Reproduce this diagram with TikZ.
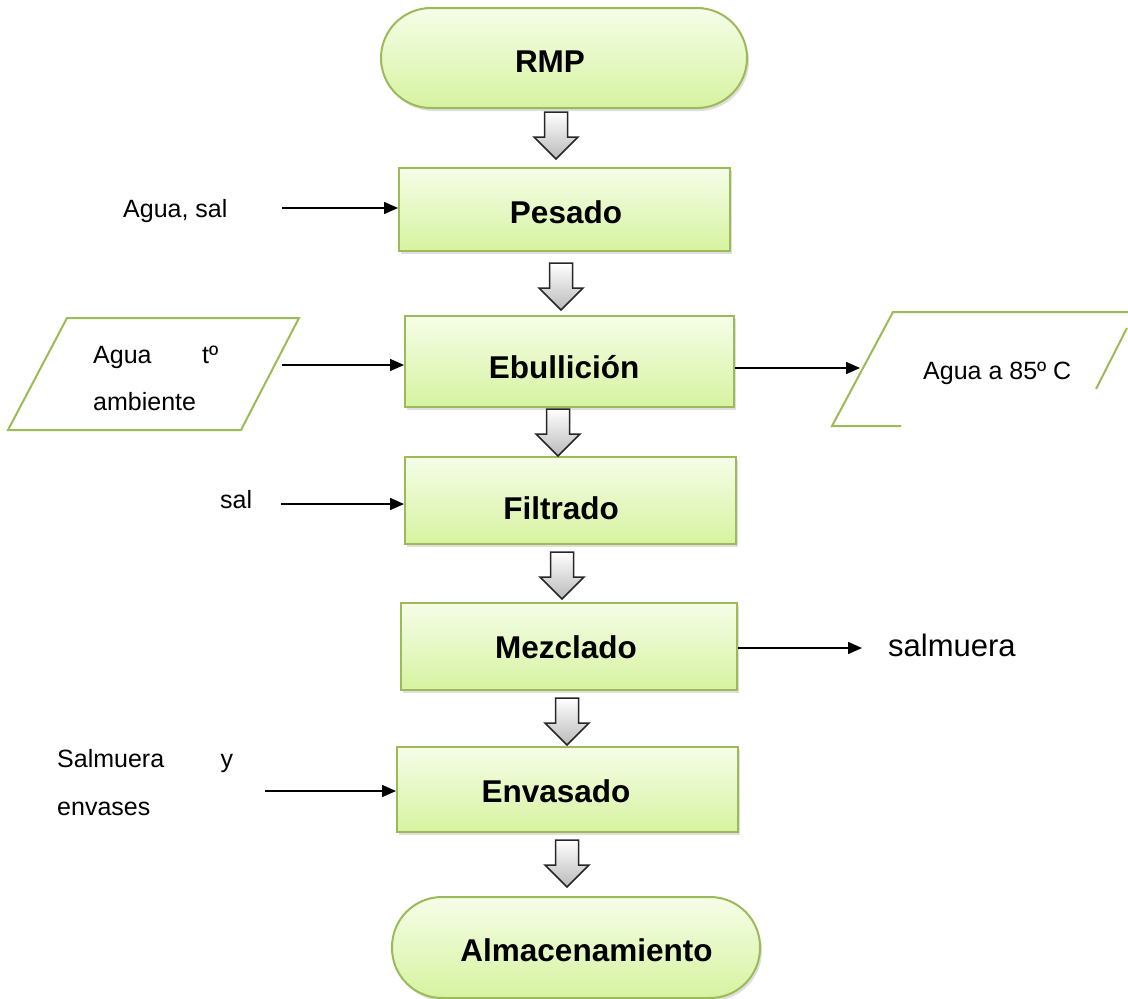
\documentclass[tikz,border=0pt]{standalone}
\usepackage{fontspec}
\setmainfont{Liberation Sans}
\usetikzlibrary{arrows.meta,shadows}
\definecolor{brd}{RGB}{155,187,89}
\definecolor{gtop}{RGB}{246,253,232}
\definecolor{gbot}{RGB}{214,243,160}
% place text with its visual centre offset (dx, dy) from the node centre
\newcommand\tpos[3]{\makebox[0pt][c]{\raisebox{\dimexpr-#2pt-11pt\relax}[0pt][0pt]{\hspace*{#1pt}\hspace*{#1pt}#3}}}
\tikzset{
  box/.style={draw=brd, line width=2pt, top color=gtop, bottom color=gbot,
    drop shadow={shadow xshift=2pt, shadow yshift=-3pt, opacity=0.25},
    font=\fontsize{31.5}{36}\selectfont\bfseries, inner sep=0pt},
  term/.style={box, rounded corners=50pt},
  lbl/.style={font=\fontsize{25}{30}\selectfont, inner sep=0pt},
  conn/.style={line width=1.5pt, -{Triangle[length=14pt,width=12pt]}},
  para/.style={draw=brd, line width=2pt},
  barrow/.pic={\path[draw=black!85, line width=1.5pt, top color=white, bottom color=black!27, line join=miter]
     (-11.5,0) -- (11.5,0) -- (11.5,25) -- (22,25) -- (0,47) -- (-22,25) -- (-11.5,25) -- cycle;}
}
\begin{document}
\begin{tikzpicture}[x=1pt,y=-1pt]
\useasboundingbox (0,0) rectangle (1128,999);

% process nodes
\node[term, minimum width=366, minimum height=100] (rmp) at (564,58) {\tpos{-14}{3}{RMP}};
\node[box, minimum width=331, minimum height=83] (pes) at (564.5,209.5) {\tpos{1.5}{3}{Pesado}};
\node[box, minimum width=329, minimum height=91] (ebu) at (569.5,361.5) {\tpos{-5.5}{5.5}{Ebullición}};
\node[box, minimum width=331, minimum height=87] (fil) at (570.5,500.5) {\tpos{-9.5}{7.5}{Filtrado}};
\node[box, minimum width=336, minimum height=87] (mez) at (569,646.5) {\tpos{-3}{0.5}{Mezclado}};
\node[box, minimum width=341, minimum height=85] (env) at (567.5,789.5) {\tpos{-11.5}{1.5}{Envasado}};
\node[term, minimum width=368, minimum height=101] (alm) at (576,947.5) {\tpos{10.5}{2.5}{Almacenamiento}};

% block arrows
\pic at (556,112) {barrow};
\pic at (561,263) {barrow};
\pic at (558,409) {barrow};
\pic at (562,552) {barrow};
\pic at (567,698) {barrow};
\pic at (567,840) {barrow};

% left inputs
\node[lbl, anchor=base west] (t1) at (123,217) {Agua, sal};
\coordinate (s1) at (282,208);
\draw[conn] (s1) -- (s1 -| pes.west);

\draw[para] (67,318) -- (299,318) -- (241,430) -- (8,430) -- cycle;
\node[lbl, anchor=base west] (t2a) at (93,363) {\hbox to 125pt{Agua\hfill tº}};
\node[lbl, anchor=base west] (t2b) at (93,410) {ambiente};
\coordinate (s2) at (282,365);
\draw[conn] (s2) -- (s2 -| ebu.west);

\node[lbl, anchor=base west] (t3) at (220,508) {sal};
\coordinate (s3) at (281,504);
\draw[conn] (s3) -- (s3 -| fil.west);

\node[lbl, anchor=base west] (t5a) at (57,767) {\hbox to 176pt{Salmuera\hfill y}};
\node[lbl, anchor=base west] (t5b) at (57,815) {envases};
\coordinate (s5) at (265,791);
\draw[conn] (s5) -- (s5 -| env.west);

% right outputs
\draw[para] (1128,312) -- (893,312) -- (832,426) -- (901,426);
\draw[para] (1127,328) -- (1096,389);
\node[lbl, anchor=base west] (t4) at (923,379) {Agua a 85º C};
\coordinate (e4) at (860,368);
\draw[conn] (ebu.east |- e4) -- (e4);

\node[lbl, font=\fontsize{31}{36}\selectfont, anchor=base west] (t6) at (888,656) {salmuera};
\coordinate (e6) at (862,648);
\draw[conn] (mez.east |- e6) -- ++(3,0) -- (e6);
\end{tikzpicture}
\end{document}
